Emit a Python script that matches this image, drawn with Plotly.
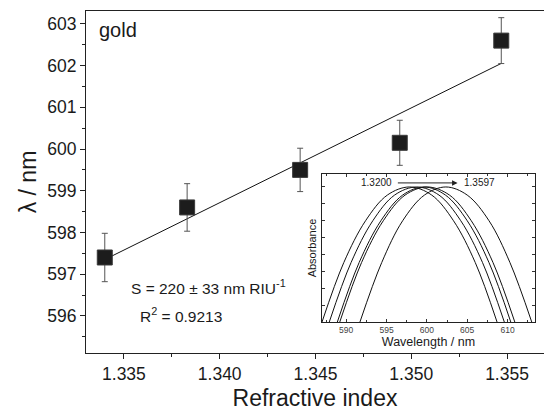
import numpy as np
import plotly.graph_objects as go

# ---- main data ----
ref_index = [1.3340, 1.3383, 1.3442, 1.3494, 1.3547]
peak_nm = [597.40, 598.60, 599.50, 600.15, 602.60]
peak_err = [0.58, 0.57, 0.52, 0.54, 0.55]

x_ticks = [1.335, 1.340, 1.345, 1.350, 1.355]
y_ticks = [596, 597, 598, 599, 600, 601, 602, 603]

# ---- inset spectra ----
spec_wl = [
    [587.0, 589.7, 592.4, 595.1, 597.85, 600.6, 603.3, 606.0, 608.7],
    [587.9, 590.6, 593.3, 596.0, 598.75, 601.5, 604.2, 606.9, 609.6],
    [588.9, 591.6, 594.3, 597.0, 599.65, 602.3, 605.0, 607.7, 610.4],
    [589.2, 591.9, 594.6, 597.3, 600.05, 602.8, 605.5, 608.2, 610.9],
    [591.7, 594.4, 597.0, 599.7, 602.35, 605.0, 607.7, 610.3, 613.0],
]
spec_abs = [0.0, 0.44, 0.75, 0.94, 1.0, 0.94, 0.75, 0.44, 0.0]
inset_ticks = [590, 595, 600, 605, 610]

# linear fit
slope, intercept = np.polyfit(ref_index, peak_nm, 1)
fit_x = [ref_index[0], ref_index[-1]]
fit_y = [slope * v + intercept for v in fit_x]

TXT = "#1a1a1a"
FONT = "Liberation Sans, Arial, sans-serif"

fig = go.Figure()

fig.add_trace(go.Scatter(x=fit_x, y=fit_y, mode="lines",
                         line=dict(color="#111111", width=1), showlegend=False))
fig.add_trace(go.Scatter(
    x=ref_index, y=peak_nm, mode="markers",
    marker=dict(symbol="square", size=15, color="#1c1c1c",
                line=dict(color="#3a3a3a", width=1)),
    error_y=dict(type="data", array=peak_err, visible=True,
                 color="#555555", thickness=1, width=3),
    showlegend=False))

for wl in spec_wl:
    fig.add_trace(go.Scatter(x=wl, y=spec_abs, mode="lines", xaxis="x2", yaxis="y2",
                             line=dict(color="#111111", width=1, shape="spline", smoothing=1.0),
                             showlegend=False))

fig.update_layout(
    width=544, height=412,
    margin=dict(l=86, r=0, t=11, b=59),
    paper_bgcolor="white", plot_bgcolor="white",
    font=dict(family=FONT, color=TXT),
    xaxis=dict(range=[1.33302, 1.35693], tickvals=x_ticks,
               ticktext=[f"{v:.3f}" for v in x_ticks],
               ticks="outside", ticklen=5, tickwidth=1, tickcolor="#222",
               minor=dict(ticks="outside", ticklen=3, dtick=0.0025, tick0=1.335, tickcolor="#222"),
               showline=True, linecolor="#222", linewidth=1, mirror=True,
               showgrid=False, zeroline=False,
               tickfont=dict(size=17.5, color=TXT),
               title=dict(text="Refractive index", font=dict(size=23, color=TXT), standoff=6)),
    yaxis=dict(range=[595.11, 603.31], tickvals=y_ticks,
               ticks="outside", ticklen=5, tickwidth=1, tickcolor="#222",
               minor=dict(ticks="outside", ticklen=3, dtick=0.5, tick0=596, tickcolor="#222"),
               showline=True, linecolor="#222", linewidth=1, mirror=True,
               showgrid=False, zeroline=False,
               tickfont=dict(size=17.5, color=TXT),
               title=dict(text="λ / nm", font=dict(size=23, color=TXT), standoff=4)),
    xaxis2=dict(domain=[0.5153, 0.9803], anchor="y2", range=[587.0, 613.4],
                tickvals=inset_ticks, ticks="inside", ticklen=3, tickcolor="#333",
                minor=dict(ticks="inside", ticklen=2, dtick=2.5, tick0=590, tickcolor="#333"),
                mirror="allticks", showline=True, linecolor="#222", linewidth=1,
                showgrid=False, zeroline=False,
                tickfont=dict(size=8.5, color="#444"),
                title=dict(text="Wavelength / nm", font=dict(size=12.5, color=TXT), standoff=2)),
    yaxis2=dict(domain=[0.0906, 0.5234], anchor="x2", range=[0, 1.096],
                dtick=0.125, tick0=0, ticks="inside", ticklen=3, tickcolor="#333",
                mirror="allticks", showline=True, linecolor="#222", linewidth=1,
                showticklabels=False, showgrid=False, zeroline=False,
                title=dict(text="Absorbance", font=dict(size=11, color=TXT), standoff=2)),
    shapes=[dict(type="rect", xref="x2 domain", yref="y2 domain", x0=0, x1=1, y0=0, y1=1,
                 fillcolor="white", line=dict(width=0), layer="below")],
    annotations=[
        dict(text="gold", xref="paper", yref="paper", x=0.024, y=0.944,
             xanchor="left", yanchor="middle", showarrow=False, font=dict(size=20, color=TXT)),
        dict(text="S = 220 ± 33 nm RIU<sup>-1</sup>", xref="paper", yref="paper", x=0.0939, y=0.193,
             xanchor="left", yanchor="middle", showarrow=False, font=dict(size=15.5, color=TXT)),
        dict(text="R<sup>2</sup> = 0.9213", xref="paper", yref="paper", x=0.1135, y=0.111,
             xanchor="left", yanchor="middle", showarrow=False, font=dict(size=15.5, color=TXT)),
        dict(text="1.3200", xref="x2", yref="y2", x=603.8, y=1.03,
             ax=593.8, ay=1.03, axref="x2", ayref="y2", showarrow=True,
             arrowhead=2, arrowsize=1.1, arrowwidth=1, arrowcolor="#222",
             startstandoff=4, font=dict(size=10, color=TXT)),
        dict(text="1.3597", xref="x2", yref="y2", x=604.35, y=1.03, xanchor="left", yanchor="middle",
             showarrow=False, font=dict(size=10, color=TXT)),
    ],
)

fig.write_html("out.html")
